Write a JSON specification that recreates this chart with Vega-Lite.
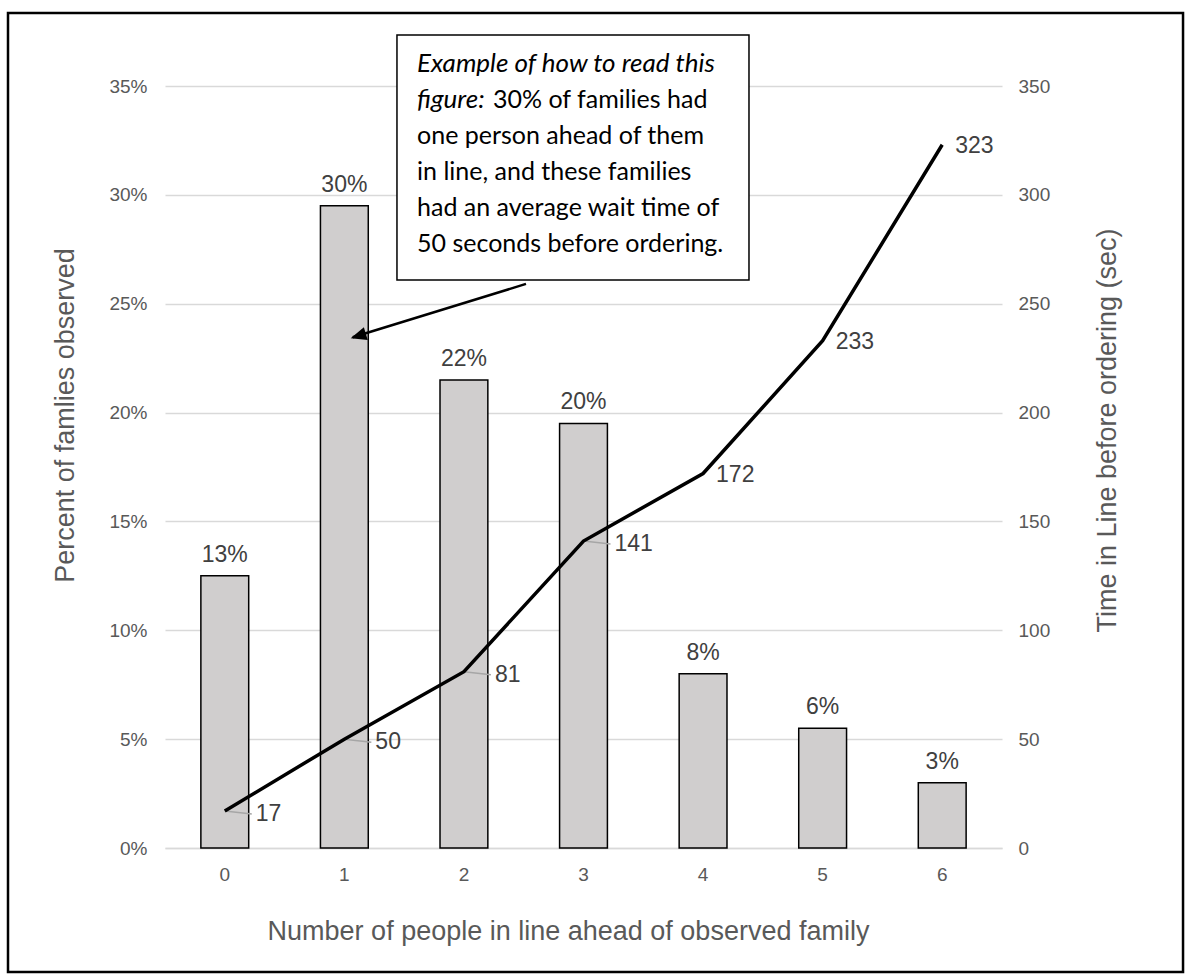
{
  "$schema": "https://vega.github.io/schema/vega-lite/v6.json",
  "width": 837,
  "height": 762,
  "autosize": {"type": "none"},
  "padding": {"left": 165, "top": 86, "right": 188, "bottom": 128},
  "background": "white",
  "config": {
    "view": {"stroke": null},
    "font": "Liberation Sans, Arial, sans-serif",
    "axis": {"labelFont": "Liberation Sans, Arial, sans-serif", "titleFont": "Liberation Sans, Arial, sans-serif", "titleFontWeight": "normal"}
  },
  "datasets": {
    "main": [
      {"n": 0, "pct": 0.125, "label": "13%", "time": 17},
      {"n": 1, "pct": 0.295, "label": "30%", "time": 50},
      {"n": 2, "pct": 0.215, "label": "22%", "time": 81},
      {"n": 3, "pct": 0.195, "label": "20%", "time": 141},
      {"n": 4, "pct": 0.08, "label": "8%", "time": 172},
      {"n": 5, "pct": 0.055, "label": "6%", "time": 233},
      {"n": 6, "pct": 0.03, "label": "3%", "time": 323}
    ]
  },
  "data": {"name": "main"},
  "layer": [
    {
      "mark": {"type": "bar", "fill": "#D0CECE", "stroke": "#000000", "strokeWidth": 1.5},
      "encoding": {
        "x": {"field": "n", "type": "ordinal", "scale": {"type": "band", "domain": [0,1,2,3,4,5,6], "paddingInner": 0.6, "paddingOuter": 0.3},
          "axis": {"title": "Number of people in line ahead of observed family", "labelAngle": 0, "labelFontSize": 19, "labelColor": "#595959", "labelPadding": 17, "ticks": false, "domain": true, "domainColor": "#D9D9D9", "domainWidth": 1.5, "titleFontSize": 27, "titleColor": "#595959", "titleX": 403, "titleY": 91, "titleBaseline": "alphabetic", "titleAnchor": null, "titleAlign": "center"}},
        "y": {"field": "pct", "type": "quantitative", "scale": {"domain": [0, 0.35], "nice": false},
          "axis": {"title": "Percent of famlies observed", "values": [0, 0.05, 0.1, 0.15, 0.2, 0.25, 0.3, 0.35], "format": ".0%", "labelFontSize": 19, "labelColor": "#595959", "labelPadding": 18, "ticks": false, "domain": false, "grid": true, "gridColor": "#D9D9D9", "gridWidth": 1.5, "titleFontSize": 27, "titleColor": "#595959", "titleAngle": -90, "titleX": -92, "titleY": 329, "titleBaseline": "alphabetic", "titleAlign": "center"}}
      }
    },
    {
      "mark": {"type": "text", "fontSize": 23, "color": "#404040", "baseline": "alphabetic", "dy": -14},
      "encoding": {
        "x": {"field": "n", "type": "ordinal", "scale": {"type": "band", "domain": [0,1,2,3,4,5,6], "paddingInner": 0.6, "paddingOuter": 0.3}, "axis": null},
        "y": {"field": "pct", "type": "quantitative", "scale": {"domain": [0, 0.35], "nice": false}, "axis": null},
        "text": {"field": "label"}
      }
    },
    {
      "transform": [{"filter": "datum.n <= 3"}],
      "mark": {"type": "rule", "color": "#A6A6A6", "strokeWidth": 1.5, "x2Offset": 27, "y2Offset": 3},
      "encoding": {
        "x": {"field": "n", "type": "ordinal", "scale": {"type": "band", "domain": [0,1,2,3,4,5,6], "paddingInner": 0.6, "paddingOuter": 0.3}, "axis": null},
        "x2": {"field": "n"},
        "y": {"field": "time", "type": "quantitative", "scale": {"domain": [0, 350], "nice": false}, "axis": null},
        "y2": {"field": "time"}
      }
    },
    {
      "mark": {"type": "line", "color": "#000000", "strokeWidth": 3.5},
      "encoding": {
        "x": {"field": "n", "type": "ordinal", "scale": {"type": "band", "domain": [0,1,2,3,4,5,6], "paddingInner": 0.6, "paddingOuter": 0.3}, "axis": null},
        "y": {"field": "time", "type": "quantitative", "scale": {"domain": [0, 350], "nice": false},
          "axis": {"orient": "right", "title": "Time in Line before ordering (sec)", "values": [0, 50, 100, 150, 200, 250, 300, 350], "labelFontSize": 19, "labelColor": "#595959", "labelPadding": 16, "ticks": false, "domain": false, "grid": false, "titleFontSize": 27, "titleColor": "#595959", "titleAngle": -90, "titleX": 113, "titleY": 344, "titleBaseline": "alphabetic", "titleAlign": "center"}}
      }
    },
    {
      "transform": [{"filter": "datum.n <= 3"}],
      "mark": {"type": "text", "fontSize": 23, "color": "#404040", "align": "left", "baseline": "middle", "dx": 31, "dy": 3},
      "encoding": {
        "x": {"field": "n", "type": "ordinal", "scale": {"type": "band", "domain": [0,1,2,3,4,5,6], "paddingInner": 0.6, "paddingOuter": 0.3}, "axis": null},
        "y": {"field": "time", "type": "quantitative", "scale": {"domain": [0, 350], "nice": false}, "axis": null},
        "text": {"field": "time"}
      }
    },
    {
      "transform": [{"filter": "datum.n > 3"}],
      "mark": {"type": "text", "fontSize": 23, "color": "#404040", "align": "left", "baseline": "middle", "dx": 13, "dy": 1},
      "encoding": {
        "x": {"field": "n", "type": "ordinal", "scale": {"type": "band", "domain": [0,1,2,3,4,5,6], "paddingInner": 0.6, "paddingOuter": 0.3}, "axis": null},
        "y": {"field": "time", "type": "quantitative", "scale": {"domain": [0, 350], "nice": false}, "axis": null},
        "text": {"field": "time"}
      }
    },
    {
      "data": {"values": [{"x1": -1.813, "x2": 8.014, "y1": 383.5, "y2": -56.96}]},
      "mark": {"type": "rect", "fill": null, "fillOpacity": 0, "stroke": "#000000", "strokeWidth": 2.5},
      "encoding": {
        "x": {"field": "x1", "type": "quantitative", "scale": {"domain": [-0.5, 6.5], "nice": false, "zero": false}, "axis": null},
        "x2": {"field": "x2"},
        "y": {"field": "y1", "type": "quantitative", "scale": {"domain": [0, 350], "nice": false}, "axis": null},
        "y2": {"field": "y2"}
      }
    },
    {
      "data": {"values": [{"x1": 1.44, "x2": 4.384, "y1": 373.4, "y2": 260.9}]},
      "mark": {"type": "rect", "fill": "#FFFFFF", "stroke": "#000000", "strokeWidth": 1.5},
      "encoding": {
        "x": {"field": "x1", "type": "quantitative", "scale": {"domain": [-0.5, 6.5], "nice": false, "zero": false}, "axis": null},
        "x2": {"field": "x2"},
        "y": {"field": "y1", "type": "quantitative", "scale": {"domain": [0, 350], "nice": false}, "axis": null},
        "y2": {"field": "y2"}
      }
    },
    {
      "data": {"values": [
        {"ax": 1.608, "ay": 356.4, "t": "Example of how to read this"},
        {"ax": 1.608, "ay": 339.9, "t": "figure:"}
      ]},
      "mark": {"type": "text", "font": "Lato, Carlito, sans-serif", "fontSize": 26, "fontStyle": "italic", "color": "#000000", "align": "left", "baseline": "alphabetic"},
      "encoding": {
        "x": {"field": "ax", "type": "quantitative", "scale": {"domain": [-0.5, 6.5], "nice": false, "zero": false}, "axis": null},
        "y": {"field": "ay", "type": "quantitative", "scale": {"domain": [0, 350], "nice": false}, "axis": null},
        "text": {"field": "t"}
      }
    },
    {
      "data": {"values": [
        {"ax": 2.243, "ay": 339.9, "t": "30% of families had"},
        {"ax": 1.608, "ay": 323.4, "t": "one person ahead of them"},
        {"ax": 1.608, "ay": 306.8, "t": "in line, and these families"},
        {"ax": 1.608, "ay": 290.3, "t": "had an average wait time of"},
        {"ax": 1.608, "ay": 273.8, "t": "50 seconds before ordering."}
      ]},
      "mark": {"type": "text", "font": "Lato, Carlito, sans-serif", "fontSize": 25, "color": "#000000", "align": "left", "baseline": "alphabetic"},
      "encoding": {
        "x": {"field": "ax", "type": "quantitative", "scale": {"domain": [-0.5, 6.5], "nice": false, "zero": false}, "axis": null},
        "y": {"field": "ay", "type": "quantitative", "scale": {"domain": [0, 350], "nice": false}, "axis": null},
        "text": {"field": "t"}
      }
    },
    {
      "data": {"values": [{"x1": 2.519, "y1": 259.1, "x2": 1.07, "y2": 234.6}]},
      "mark": {"type": "rule", "color": "#000000", "strokeWidth": 2.5},
      "encoding": {
        "x": {"field": "x1", "type": "quantitative", "scale": {"domain": [-0.5, 6.5], "nice": false, "zero": false}, "axis": null},
        "x2": {"field": "x2"},
        "y": {"field": "y1", "type": "quantitative", "scale": {"domain": [0, 350], "nice": false}, "axis": null},
        "y2": {"field": "y2"}
      }
    },
    {
      "data": {"values": [{"ax": 1.053, "ay": 234.1}]},
      "mark": {"type": "point", "shape": "M 0 0 L 1 -0.42 L 1 0.42 Z", "filled": true, "color": "#000000", "opacity": 1, "size": 1000, "angle": 343},
      "encoding": {
        "x": {"field": "ax", "type": "quantitative", "scale": {"domain": [-0.5, 6.5], "nice": false, "zero": false}, "axis": null},
        "y": {"field": "ay", "type": "quantitative", "scale": {"domain": [0, 350], "nice": false}, "axis": null}
      }
    }
  ],
  "resolve": {"scale": {"x": "independent", "y": "independent"}}
}
